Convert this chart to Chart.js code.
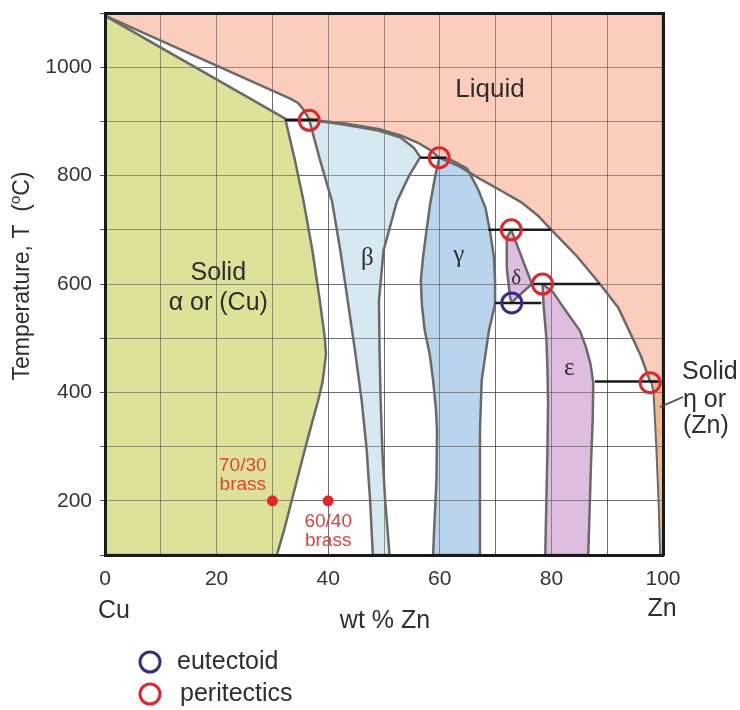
<!DOCTYPE html>
<html><head><meta charset="utf-8">
<script src="https://cdn.jsdelivr.net/npm/chart.js@4/dist/chart.umd.min.js"></script>
<style>html,body{margin:0;padding:0;background:#fff;}#wrap{width:740px;height:710px;position:relative;}</style>
</head><body><div id="wrap"><canvas id="c" width="740" height="710"></canvas></div>
<script>
// ---- data: [wt % Zn, T (°C)] ----
const liquidus = [[0,1095],[33.2,942],[34.6,934],[35.7,920],[36.6,903],[43,896],[49,886],[53,874],[56,861],[58.3,847],[59.9,833],[63.5,817],[67.2,794],[71,772],[74.7,750],[77.5,727],[80,700],[84.5,652],[88.7,600],[92,556],[94.2,508],[96,468],[97.7,420],[100,420]];
const liquidPhase = liquidus.concat([[100,1100],[0,1100]]);
const alphaPhase = [[0,1095],[32.3,905],[34,830],[35.6,752],[37.2,660],[38.5,569],[39.4,500],[39.6,470],[39,420],[38.2,385],[37,340],[35.8,294],[34.7,250],[33.5,202],[32.2,150],[30.8,100],[0,100]];
const betaPhase = [[36.6,903],[38.5,830],[40.7,752],[42.2,660],[43.5,569],[44.8,477],[46,385],[46.9,294],[47.5,202],[48,100],[51,100],[50.2,202],[49.7,294],[49.4,385],[49.2,477],[49.1,569],[49.9,661],[52.3,752],[54.5,800],[56.5,834],[55.3,852],[53,870],[49,883],[43,894],[36.6,903]];
const gammaPhase = [[59.9,833],[59.2,800],[58.3,750],[57.6,697],[57,650],[56.6,606],[56.8,560],[57.3,514],[58.2,470],[58.8,422],[59.3,370],[59.5,330],[59.4,239],[59,150],[58.8,100],[67.2,100],[67.2,239],[67.2,330],[67.5,422],[68.8,514],[69.9,563],[69.9,606],[69.7,650],[69,697],[68.2,740],[66.8,776],[64.9,813],[62,829],[59.9,833]];
const deltaPhase = [[72.8,700],[72,685],[72,630],[72.6,575],[72.9,565],[73.5,572],[76.5,600],[73.1,692],[72.8,700]];
const epsilonPhase = [[78.4,600],[78.6,560],[79.1,500],[79.3,440],[79.4,380],[79.3,300],[79.1,200],[78.9,100],[86.6,100],[86.9,200],[87.1,270],[87.4,350],[87.5,418],[87,453],[86.2,483],[85.1,514],[82.6,550],[80.3,585],[78.4,600]];
const etaPhase = [[97.9,420],[100,420],[100,100],[99.5,100],[99.2,200],[98.8,300],[98.3,400],[97.9,420]];
// tie lines: [x from, x to, T]
const tieLines = [[32.3,38.5,903],[56.5,61.2,833],[68.7,80,700],[76.5,88.7,600],[69.9,78.2,565],[87.8,99.2,420]];
const peritectics = [[36.6,902],[59.9,833],[72.8,700],[78.4,600],[97.7,418]];
const eutectoid = [[72.9,565]];
const brassAlloys = [[30,200],[40,200]];
const xTickLabels = [0,20,40,60,80,100];
const yTickLabels = [200,400,600,800,1000];

// ---- styles ----
const FONT = '"Liberation Sans", Arial, sans-serif';
const SERIF = '"Liberation Serif", "Times New Roman", serif';
const GRID = 'rgba(60,60,60,0.5)';
const FRAME = '#1a1a1a';
const BOUND = '#6a6a6a';
const RED = '#E0262B';
const BLUE = '#3B2A8E';
const TXT = '#2e2e2e';

const toXY = a => a.map(p => ({x: p[0], y: p[1]}));
const phases = [
  [liquidPhase, '#FBCDBC'],
  [alphaPhase, '#DEE298'],
  [betaPhase, '#D6E9F1'],
  [gammaPhase, '#BBD4ED'],
  [deltaPhase, '#DFBDDF'],
  [epsilonPhase, '#DFBDDF'],
  [etaPhase, '#F5B88B']
];

const datasets = [];
phases.forEach(([pts, col]) => datasets.push({
  data: toXY(pts), fill: 'shape', backgroundColor: col, borderWidth: 0, borderColor: 'rgba(0,0,0,0)',
  pointRadius: 0, tension: 0
}));
const LAST_FILL = datasets.length - 1;
phases.forEach(([pts], i) => datasets.push({
  data: toXY(pts), fill: false, borderColor: BOUND, borderWidth: i === phases.length - 1 ? 2 : 2.5, pointRadius: 0, tension: 0, borderJoinStyle: 'round'
}));
tieLines.forEach(t => datasets.push({
  data: [{x: t[0], y: t[2]}, {x: t[1], y: t[2]}], fill: false, borderColor: FRAME, borderWidth: 2.5, pointRadius: 0
}));
datasets.push({data: toXY(brassAlloys), showLine: false, pointRadius: 5.5, pointBackgroundColor: '#E8232A', pointBorderWidth: 0});
datasets.push({data: toXY(peritectics), showLine: false, pointRadius: 10, pointBorderWidth: 3, pointBorderColor: RED, pointBackgroundColor: 'rgba(0,0,0,0)'});
datasets.push({data: toXY(eutectoid), showLine: false, pointRadius: 10, pointBorderWidth: 3, pointBorderColor: BLUE, pointBackgroundColor: 'rgba(0,0,0,0)'});
datasets.forEach((d, i) => { d.order = 1000 - i; d.type = 'line'; });

const plotLabels = [
  {t: 'Liquid', x: 69, y: 958, f: '26px ' + FONT, c: TXT},
  {t: 'Solid', x: 20.3, y: 620, f: '25px ' + FONT, c: TXT},
  {t: 'α or (Cu)', x: 20.3, y: 564, f: '25px ' + FONT, c: TXT},
  {t: 'β', x: 47, y: 648, f: '25px ' + SERIF, c: TXT},
  {t: 'γ', x: 63.4, y: 653, f: '25px ' + SERIF, c: TXT},
  {t: 'δ', x: 73.7, y: 611, f: '21px ' + SERIF, c: TXT},
  {t: 'ε', x: 83.2, y: 444, f: '25px ' + SERIF, c: TXT},
  {t: '70/30', x: 24.7, y: 265, f: '19px ' + FONT, c: '#E5413A'},
  {t: 'brass', x: 24.7, y: 229, f: '19px ' + FONT, c: '#E5413A'},
  {t: '60/40', x: 40, y: 161, f: '19px ' + FONT, c: '#E5413A'},
  {t: 'brass', x: 40, y: 126, f: '19px ' + FONT, c: '#E5413A'}
];

const gridOver = {
  id: 'gridOver',
  afterDatasetDraw(chart, args) {
    if (args.index === LAST_FILL) {
      chart.scales.x.drawGrid(chart.chartArea);
      chart.scales.y.drawGrid(chart.chartArea);
    }
  }
};

const annot = {
  id: 'annot',
  afterDraw(chart) {
    const {ctx, scales: {x, y}} = chart;
    ctx.save();
    ctx.textAlign = 'center'; ctx.textBaseline = 'middle';
    for (const l of plotLabels) {
      ctx.font = l.f; ctx.fillStyle = l.c;
      ctx.fillText(l.t, x.getPixelForValue(l.x), y.getPixelForValue(l.y));
    }
    ctx.fillStyle = TXT;
    ctx.font = '25px ' + FONT;
    ctx.fillText('Cu', 114, 611);
    ctx.fillText('Zn', 662, 609);
    ctx.fillText('wt % Zn', 385, 621);
    ctx.textAlign = 'left';
    ctx.fillText('Solid', 682, 372);
    ctx.fillText('η or', 683, 400);
    ctx.fillText('(Zn)', 683, 426);
    ctx.fillText('eutectoid', 177, 662);
    ctx.fillText('peritectics', 180, 694);
    // leader line
    ctx.strokeStyle = '#444'; ctx.lineWidth = 1.5;
    ctx.beginPath(); ctx.moveTo(683, 397); ctx.lineTo(660, 407); ctx.stroke();
    // legend markers
    ctx.lineWidth = 3;
    ctx.strokeStyle = BLUE; ctx.beginPath(); ctx.arc(150, 662, 10, 0, Math.PI * 2); ctx.stroke();
    ctx.strokeStyle = RED; ctx.beginPath(); ctx.arc(150, 694, 10, 0, Math.PI * 2); ctx.stroke();
    // y title with superscript o
    ctx.translate(23, 276); ctx.rotate(-Math.PI / 2);
    const big = '23px ' + FONT, small = '15px ' + FONT;
    const parts = [['Temperature, T  (', big, 0], ['o', small, -7], ['C)', big, 0]];
    let w = 0;
    parts.forEach(p => { ctx.font = p[1]; w += ctx.measureText(p[0]).width; });
    let cx = -w / 2;
    ctx.textAlign = 'left';
    parts.forEach(p => { ctx.font = p[1]; ctx.fillText(p[0], cx, p[2]); cx += ctx.measureText(p[0]).width; });
    ctx.restore();
  }
};

const noPad = s => { s.paddingTop = 0; s.paddingBottom = 0; s.paddingLeft = 0; s.paddingRight = 0; };

new Chart(document.getElementById('c'), {
  type: 'line',
  data: {datasets},
  options: {
    responsive: false, animation: false, events: [], devicePixelRatio: 1,
    layout: {padding: {left: 0, right: 77, top: 11, bottom: 0}},
    plugins: {legend: {display: false}, tooltip: {enabled: false}},
    scales: {
      x: {type: 'linear', position: 'bottom', min: 0, max: 100,
        ticks: {stepSize: 10, autoSkip: false, maxRotation: 0, padding: 12, color: '#333', font: {family: FONT, size: 21},
          callback: v => xTickLabels.includes(v) ? String(v) : ''},
        grid: {color: GRID, lineWidth: 1, drawTicks: false},
        border: {display: true, color: FRAME, width: 3, z: 1},
        afterFit: s => { s.height = 155; noPad(s); }},
      y: {type: 'linear', position: 'left', min: 100, max: 1100,
        ticks: {stepSize: 100, autoSkip: false, padding: 8, color: '#333', font: {family: FONT, size: 21},
          callback: v => yTickLabels.includes(v) ? String(v) : ''},
        grid: {color: GRID, lineWidth: 1, drawTicks: true, tickLength: 5, tickColor: '#555'},
        border: {display: true, color: FRAME, width: 3, z: 1},
        afterFit: s => { s.width = 105; noPad(s); }},
      x2: {type: 'linear', position: 'top', min: 0, max: 100,
        ticks: {display: false}, grid: {display: false, drawTicks: false},
        border: {display: true, color: FRAME, width: 3, z: 1},
        afterFit: s => { s.height = 0; noPad(s); }},
      y2: {type: 'linear', position: 'right', min: 100, max: 1100,
        ticks: {display: false}, grid: {display: false, drawTicks: false},
        border: {display: true, color: FRAME, width: 3, z: 1},
        afterFit: s => { s.width = 0; noPad(s); }}
    }
  },
  plugins: [gridOver, annot]
});
</script></body></html>
